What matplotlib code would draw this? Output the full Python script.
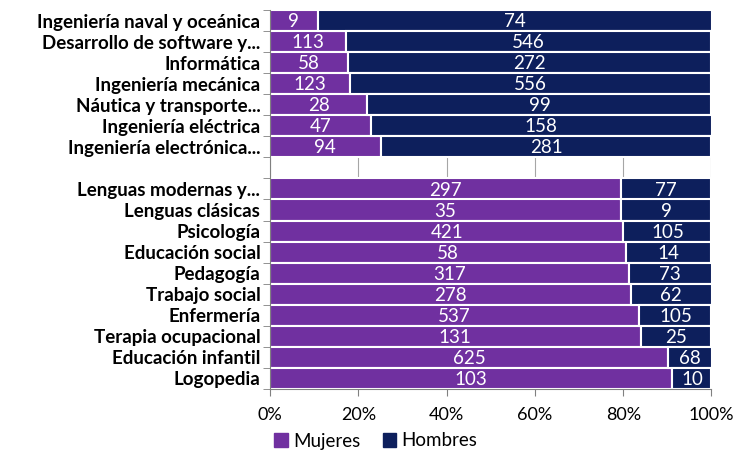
import matplotlib
matplotlib.use("Agg")
from matplotlib import pyplot as plt
from matplotlib.patches import Patch
import numpy as np

plt.rcParams['font.family'] = ['Lato', 'DejaVu Sans']

# two groups of degrees, top to bottom
grupo1 = ["Ingeniería naval y oceánica", "Desarrollo de software y...", "Informática",
          "Ingeniería mecánica", "Náutica y transporte...", "Ingeniería eléctrica",
          "Ingeniería electrónica..."]
mujeres1 = [9, 113, 58, 123, 28, 47, 94]
hombres1 = [74, 546, 272, 556, 99, 158, 281]

grupo2 = ["Lenguas modernas y...", "Lenguas clásicas", "Psicología", "Educación social",
          "Pedagogía", "Trabajo social", "Enfermería", "Terapia ocupacional",
          "Educación infantil", "Logopedia"]
mujeres2 = [297, 35, 421, 58, 317, 278, 537, 131, 625, 103]
hombres2 = [77, 9, 105, 14, 73, 62, 105, 25, 68, 10]

morado = "#7030a0"
azul = "#0d1f5c"

labels = grupo1 + [""] + grupo2
muj = np.array(mujeres1 + [0] + mujeres2, dtype=float)
hom = np.array(hombres1 + [0] + hombres2, dtype=float)
tot = muj + hom
tot[tot == 0] = 1
pm = muj / tot * 100
ph = hom / tot * 100
pos = np.arange(len(labels))

fig = plt.figure(figsize=(7.51, 4.5), dpi=100)
ax = fig.add_axes([270/751, 1 - 389/450, 441.5/751, 379/450])

ax.set_axisbelow(True)
ax.grid(axis="x", color="#a6a6a6", linewidth=0.8)
ax.barh(pos, pm, height=1.0, color=morado, edgecolor="white", linewidth=1.5)
ax.barh(pos, ph, left=pm, height=1.0, color=azul, edgecolor="white", linewidth=1.5)

for i in range(len(labels)):
    if labels[i] == "":
        continue
    ax.text(pm[i] / 2, pos[i] + 0.05, f"{int(muj[i])}", color="white", fontsize=13.5,
            ha="center", va="center")
    ax.text(pm[i] + ph[i] / 2, pos[i] + 0.05, f"{int(hom[i])}", color="white", fontsize=13.5,
            ha="center", va="center")

ax.set_xlim(0, 100)
ax.set_ylim(len(labels) - 0.5, -0.5)
ax.set_xticks(range(0, 101, 20))
ax.set_xticklabels([f"{v}%" for v in range(0, 101, 20)], fontsize=13)
ax.set_yticks(pos)
ax.set_yticklabels(labels, fontsize=13.5, fontweight="bold")
ax.tick_params(axis="y", length=0, pad=7)
ax.set_yticks(np.arange(-0.5, len(labels), 1), minor=True)
ax.tick_params(axis="y", which="minor", length=5, color="#808080")
ax.tick_params(axis="x", length=5, color="#808080", pad=8)
for s in ["top", "right"]:
    ax.spines[s].set_visible(False)
ax.spines["left"].set_color("#808080")
ax.spines["bottom"].set_color("#808080")

handles = [Patch(color=morado, label="Mujeres"), Patch(color=azul, label="Hombres")]
fig.legend(handles=handles, loc="center", bbox_to_anchor=(376/751, 1 - 441/450), ncol=2,
           frameon=False, fontsize=13.5, handlelength=0.7, handleheight=0.7,
           handletextpad=0.3, columnspacing=1.2, borderpad=0)

fig.savefig("out.png", dpi=100)
